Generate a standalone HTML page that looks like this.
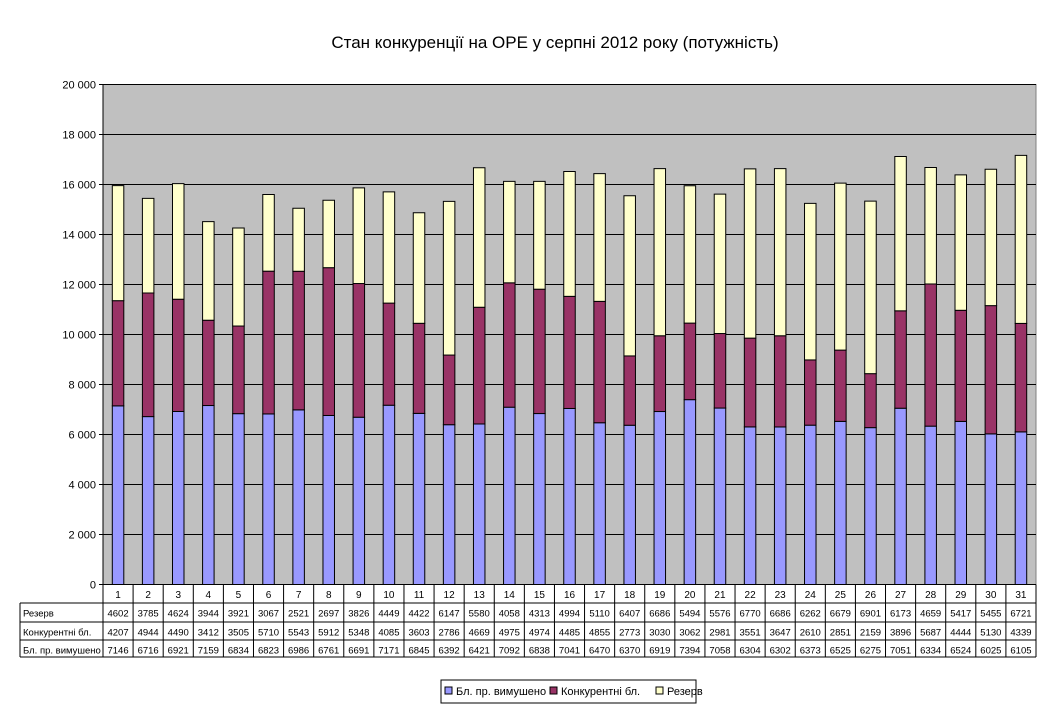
<!DOCTYPE html>
<html><head><meta charset="utf-8"><style>
body{margin:0;background:#fff;}
svg{display:block;font-family:"Liberation Sans",Arial,sans-serif;}
</style></head><body>
<svg id="c" width="1058" height="707" viewBox="0 0 1058 707">
<text x="555" y="48" text-anchor="middle" font-size="17">Стан конкуренції на ОРЕ  у серпні 2012 року (потужність)</text>
</svg>
<script>
const categories=[1,2,3,4,5,6,7,8,9,10,11,12,13,14,15,16,17,18,19,20,21,22,23,24,25,26,27,28,29,30,31];
const reserve=[4602,3785,4624,3944,3921,3067,2521,2697,3826,4449,4422,6147,5580,4058,4313,4994,5110,6407,6686,5494,5576,6770,6686,6262,6679,6901,6173,4659,5417,5455,6721];
const competitive=[4207,4944,4490,3412,3505,5710,5543,5912,5348,4085,3603,2786,4669,4975,4974,4485,4855,2773,3030,3062,2981,3551,3647,2610,2851,2159,3896,5687,4444,5130,4339];
const forced=[7146,6716,6921,7159,6834,6823,6986,6761,6691,7171,6845,6392,6421,7092,6838,7041,6470,6370,6919,7394,7058,6304,6302,6373,6525,6275,7051,6334,6524,6025,6105];
const yTicks=[0,2000,4000,6000,8000,10000,12000,14000,16000,18000,20000];
const yTickLabels=["0","2 000","4 000","6 000","8 000","10 000","12 000","14 000","16 000","18 000","20 000"];
const seriesNames=["Бл. пр. вимушено","Конкурентні бл.","Резерв"];

const svg=document.getElementById('c');const NS='http://www.w3.org/2000/svg';
function mk(t,a,p){const e=document.createElementNS(NS,t);for(const k in a)e.setAttribute(k,a[k]);(p||svg).appendChild(e);return e;}
const L=103,R=1036,T=84.5,B=584.5,yMax=20000;
const cw=(R-L)/categories.length;
const y=v=>B-(v/yMax)*(B-T);
const xc=i=>L+cw*(i+0.5);
const bg=mk('rect',{x:L,y:T,width:R-L,height:B-T,fill:'#C0C0C0',stroke:'#808080'});


yTicks.forEach((v,i)=>{
  if(i>0){const g=mk('line',{x1:L,x2:R,y1:y(v),y2:y(v),stroke:'#000','stroke-width':1});
  
  }
  mk('line',{x1:L-4,x2:L,y1:y(v),y2:y(v),stroke:'#000'});
  const t=mk('text',{x:L-7,y:y(v)+4,'text-anchor':'end','font-size':11});t.textContent=yTickLabels[i];
  
  
});
mk('line',{x1:L,x2:L,y1:T,y2:B,stroke:'#000'});
const colors=['#9999FF','#993366','#FFFFCC'];
const series=[forced,competitive,reserve];
const bw=11.5;
categories.forEach((c,i)=>{
  let base=0;
  series.forEach((s,k)=>{
    const r=mk('rect',{x:xc(i)-bw/2,y:y(base+s[i]),width:bw,height:y(base)-y(base+s[i]),fill:colors[k],stroke:'#000','stroke-width':1});
    
    
    base+=s[i];
  });
});
// table
const rowsY=[584.5,603,622,640,657];
const tl=20;
mk('line',{x1:L,x2:R,y1:B,y2:B,stroke:'#000'});
for(let r=1;r<rowsY.length;r++) mk('line',{x1:tl,x2:R,y1:rowsY[r],y2:rowsY[r],stroke:'#000'});
mk('line',{x1:tl,x2:tl,y1:rowsY[1],y2:rowsY[4],stroke:'#000'});
for(let i=0;i<=categories.length;i++) mk('line',{x1:L+cw*i,x2:L+cw*i,y1:rowsY[0],y2:rowsY[4],stroke:'#000'});
categories.forEach((c,i)=>{const t=mk('text',{x:xc(i),y:598,'text-anchor':'middle','font-size':10});t.textContent=c;
  
  });
const tableRows=[["Резерв",reserve],["Конкурентні бл.",competitive],["Бл. пр. вимушено",forced]];
tableRows.forEach((row,r)=>{
  const ty=rowsY[r+1]+13.5;
  const h=mk('text',{x:tl+3,y:ty,'font-size':9.5});h.textContent=row[0];
  
  
  row[1].forEach((v,i)=>{const t=mk('text',{x:xc(i),y:ty,'text-anchor':'middle','font-size':9.5});t.textContent=v;
    
    });
});
// legend
const lg=mk('rect',{x:441,y:680,width:255,height:23,fill:'#fff',stroke:'#000'});


const lx=[445,550,656];
seriesNames.forEach((n,k)=>{
  mk('rect',{x:lx[k],y:687,width:7,height:7,fill:colors[k],stroke:'#000'});
  const t=mk('text',{x:lx[k]+11,y:695,'font-size':11});t.textContent=n;
  
  
});
</script>
</body></html>
